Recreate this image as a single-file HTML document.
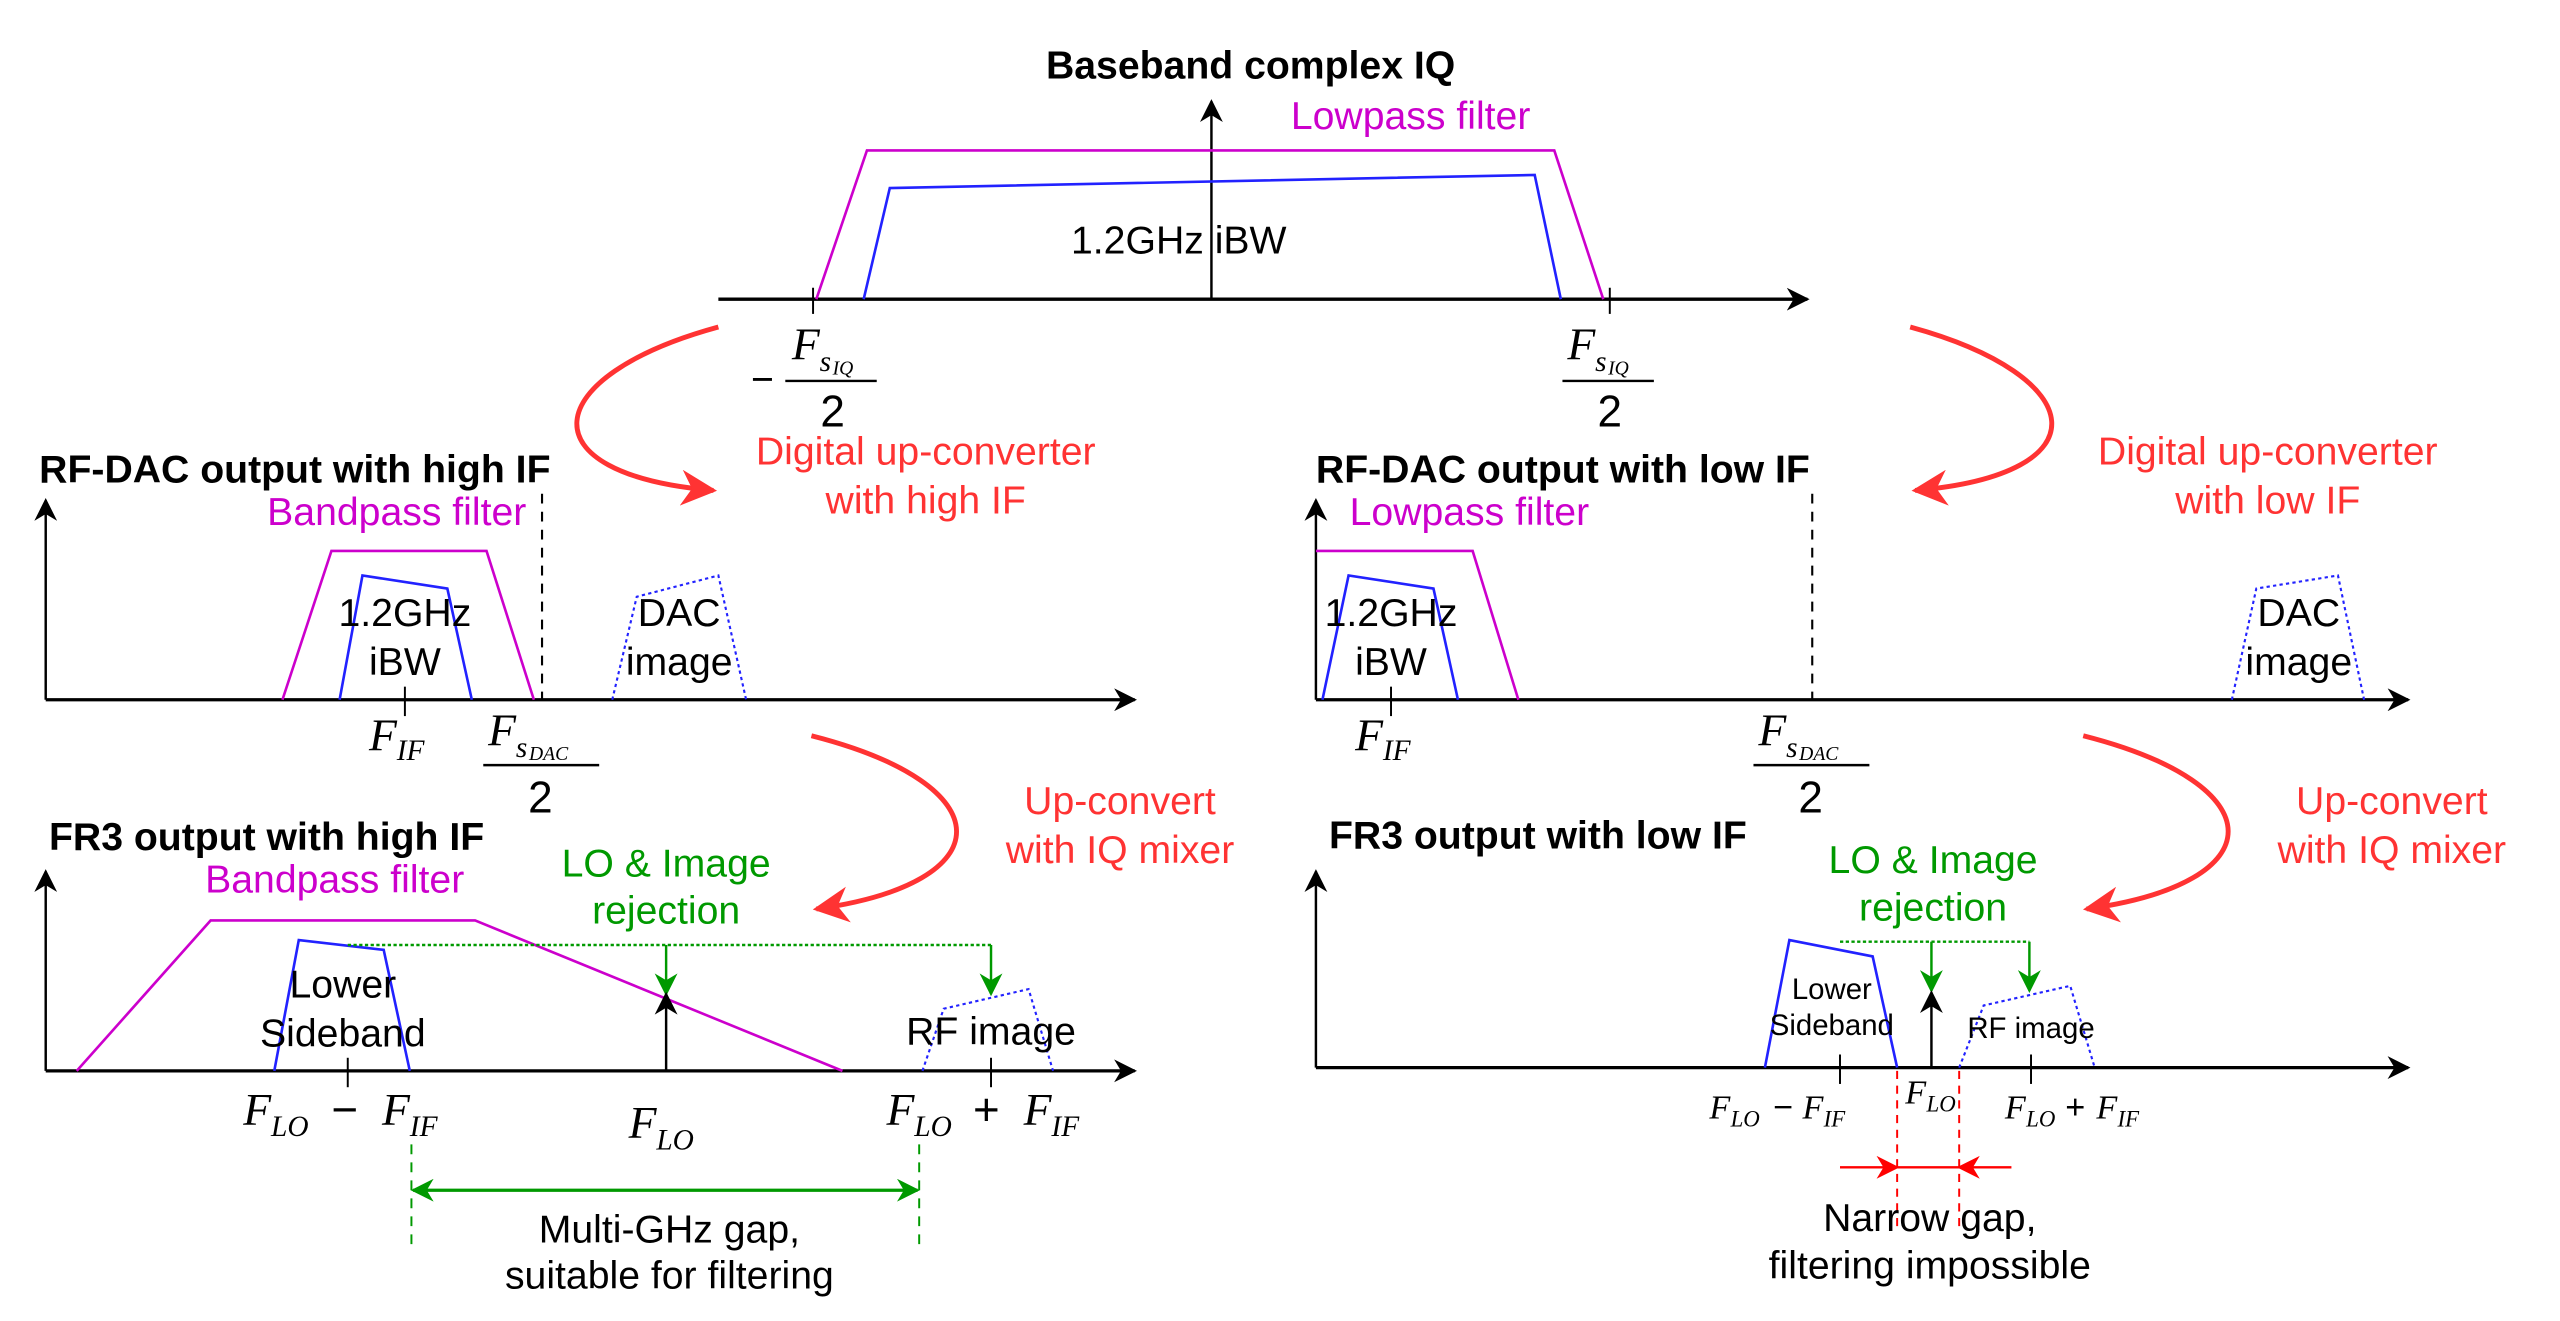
<!DOCTYPE html>
<html><head><meta charset="utf-8"><style>
html,body{margin:0;padding:0;background:#fff;}
svg{display:block;}
text{font-family:"Liberation Sans",sans-serif;}
.m{font-family:"Liberation Serif",serif;font-style:italic;}
.t{font-weight:bold;font-size:24px;}
</style></head><body>
<svg width="2560" height="1321" viewBox="0 0 1568 808" preserveAspectRatio="none" xmlns="http://www.w3.org/2000/svg">
<defs>
<marker id="ak2" viewBox="0 0 10 10" refX="9" refY="5" markerWidth="14" markerHeight="14" orient="auto-start-reverse" markerUnits="userSpaceOnUse"><path d="M0,0 L10,5 L0,10 L3,5 z" fill="#000"/></marker>
<marker id="ar" viewBox="0 0 10 10" refX="9" refY="5" markerWidth="22" markerHeight="22" orient="auto" markerUnits="userSpaceOnUse"><path d="M0,0 L10,5 L0,10 L3,5 z" fill="#f33"/></marker>
<marker id="ar2" viewBox="0 0 10 10" refX="9" refY="5" markerWidth="14" markerHeight="14" orient="auto" markerUnits="userSpaceOnUse"><path d="M0,0 L10,5 L0,10 L3,5 z" fill="#f00"/></marker>
<marker id="ag" viewBox="0 0 10 10" refX="9" refY="5" markerWidth="14" markerHeight="14" orient="auto-start-reverse" markerUnits="userSpaceOnUse"><path d="M0,0 L10,5 L0,10 L3,5 z" fill="#090"/></marker>
</defs>

<!-- TOP -->
<text x="766" y="48" text-anchor="middle" class="t">Baseband complex IQ</text>
<line x1="742" y1="183" x2="742" y2="62" stroke="#000" stroke-width="1.5" marker-end="url(#ak2)"/>
<line x1="440" y1="183" x2="1107" y2="183" stroke="#000" stroke-width="2" marker-end="url(#ak2)"/>
<polyline points="500,183 531,92 952,92 982,183" fill="none" stroke="#c0c" stroke-width="1.6"/>
<polyline points="529,183 545,115 940,107 956,183" fill="none" stroke="#22f" stroke-width="1.6"/>
<line x1="498" y1="176" x2="498" y2="192" stroke="#000" stroke-width="1.2"/>
<line x1="986" y1="176" x2="986" y2="192" stroke="#000" stroke-width="1.2"/>
<text x="864" y="79" text-anchor="middle" fill="#c0c" font-size="24">Lowpass filter</text>
<text x="722" y="155" text-anchor="middle" font-size="24">1.2GHz iBW</text>
<text x="467" y="240" text-anchor="middle" font-size="24">−</text>
<text x="485" y="220" class="m" font-size="28">F</text><text x="502" y="227" class="m" font-size="18">s</text><text x="510" y="229" class="m" font-size="12">IQ</text>
<line x1="481" y1="233" x2="537" y2="233" stroke="#000" stroke-width="1.5"/>
<text x="510" y="261" text-anchor="middle" font-family="Liberation Serif" font-size="27">2</text>
<text x="960" y="220" class="m" font-size="28">F</text><text x="977" y="227" class="m" font-size="18">s</text><text x="985" y="229" class="m" font-size="12">IQ</text>
<line x1="957" y1="233" x2="1013" y2="233" stroke="#000" stroke-width="1.5"/>
<text x="986" y="261" text-anchor="middle" font-family="Liberation Serif" font-size="27">2</text>

<!-- red curves top -->
<path d="M440,200 C330,230 320,290 437,300" fill="none" stroke="#f33" stroke-width="3" marker-end="url(#ar)"/>
<path d="M1170,200 C1280,230 1290,290 1173,300" fill="none" stroke="#f33" stroke-width="3" marker-end="url(#ar)"/>
<text x="567" y="284" text-anchor="middle" fill="#f33" font-size="24">Digital up-converter</text>
<text x="567" y="314" text-anchor="middle" fill="#f33" font-size="24">with high IF</text>
<text x="1389" y="284" text-anchor="middle" fill="#f33" font-size="24">Digital up-converter</text>
<text x="1389" y="314" text-anchor="middle" fill="#f33" font-size="24">with low IF</text>

<!-- MID LEFT -->
<text x="24" y="295" class="t">RF-DAC output with high IF</text>
<line x1="28" y1="428" x2="28" y2="306" stroke="#000" stroke-width="1.5" marker-end="url(#ak2)"/>
<line x1="28" y1="428" x2="695" y2="428" stroke="#000" stroke-width="2" marker-end="url(#ak2)"/>
<polyline points="173,428 203,337 298,337 327,428" fill="none" stroke="#c0c" stroke-width="1.6"/>
<polyline points="208,428 222,352 274,360 289,428" fill="none" stroke="#22f" stroke-width="1.6"/>
<polyline points="375,428 390,365 440,352 457,428" fill="none" stroke="#22f" stroke-width="1.3" stroke-dasharray="2,2"/>
<line x1="332" y1="302" x2="332" y2="428" stroke="#000" stroke-width="1.3" stroke-dasharray="6,5"/>
<line x1="248" y1="420" x2="248" y2="438" stroke="#000" stroke-width="1.2"/>
<text x="243" y="321" text-anchor="middle" fill="#c0c" font-size="24">Bandpass filter</text>
<text x="248" y="383" text-anchor="middle" font-size="24">1.2GHz</text>
<text x="248" y="413" text-anchor="middle" font-size="24">iBW</text>
<text x="416" y="383" text-anchor="middle" font-size="24">DAC</text>
<text x="416" y="413" text-anchor="middle" font-size="24">image</text>
<text x="226" y="459" class="m" font-size="28">F</text><text x="243" y="465" class="m" font-size="18">IF</text>
<text x="299" y="456" class="m" font-size="28">F</text><text x="316" y="463" class="m" font-size="18">s</text><text x="324" y="465" class="m" font-size="12">DAC</text>
<line x1="296" y1="468" x2="367" y2="468" stroke="#000" stroke-width="1.5"/>
<text x="331" y="497" text-anchor="middle" font-family="Liberation Serif" font-size="27">2</text>

<!-- MID RIGHT -->
<text x="806" y="295" class="t">RF-DAC output with low IF</text>
<line x1="806" y1="428" x2="806" y2="306" stroke="#000" stroke-width="1.5" marker-end="url(#ak2)"/>
<line x1="806" y1="428" x2="1475" y2="428" stroke="#000" stroke-width="2" marker-end="url(#ak2)"/>
<polyline points="806,337 902,337 930,428" fill="none" stroke="#c0c" stroke-width="1.6"/>
<polyline points="810,428 826,352 878,360 893,428" fill="none" stroke="#22f" stroke-width="1.6"/>
<polyline points="1367,428 1382,360 1432,352 1448,428" fill="none" stroke="#22f" stroke-width="1.3" stroke-dasharray="2,2"/>
<line x1="1110" y1="302" x2="1110" y2="428" stroke="#000" stroke-width="1.3" stroke-dasharray="6,5"/>
<line x1="852" y1="420" x2="852" y2="438" stroke="#000" stroke-width="1.2"/>
<text x="900" y="321" text-anchor="middle" fill="#c0c" font-size="24">Lowpass filter</text>
<text x="852" y="383" text-anchor="middle" font-size="24">1.2GHz</text>
<text x="852" y="413" text-anchor="middle" font-size="24">iBW</text>
<text x="1408" y="383" text-anchor="middle" font-size="24">DAC</text>
<text x="1408" y="413" text-anchor="middle" font-size="24">image</text>
<text x="830" y="459" class="m" font-size="28">F</text><text x="847" y="465" class="m" font-size="18">IF</text>
<text x="1077" y="456" class="m" font-size="28">F</text><text x="1094" y="463" class="m" font-size="18">s</text><text x="1102" y="465" class="m" font-size="12">DAC</text>
<line x1="1074" y1="468" x2="1145" y2="468" stroke="#000" stroke-width="1.5"/>
<text x="1109" y="497" text-anchor="middle" font-family="Liberation Serif" font-size="27">2</text>

<!-- red curves middle -->
<path d="M497,450 C615,480 615,540 500,556" fill="none" stroke="#f33" stroke-width="3" marker-end="url(#ar)"/>
<path d="M1276,450 C1394,480 1394,540 1278,556" fill="none" stroke="#f33" stroke-width="3" marker-end="url(#ar)"/>
<text x="686" y="498" text-anchor="middle" fill="#f33" font-size="24">Up-convert</text>
<text x="686" y="528" text-anchor="middle" fill="#f33" font-size="24">with IQ mixer</text>
<text x="1465" y="498" text-anchor="middle" fill="#f33" font-size="24">Up-convert</text>
<text x="1465" y="528" text-anchor="middle" fill="#f33" font-size="24">with IQ mixer</text>

<!-- BOTTOM LEFT -->
<text x="30" y="520" class="t">FR3 output with high IF</text>
<line x1="28" y1="655" x2="28" y2="533" stroke="#000" stroke-width="1.5" marker-end="url(#ak2)"/>
<line x1="28" y1="655" x2="695" y2="655" stroke="#000" stroke-width="2" marker-end="url(#ak2)"/>
<polyline points="47,655 129,563 291,563 516,655" fill="none" stroke="#c0c" stroke-width="1.6"/>
<polyline points="168,655 183,575 235,581 251,655" fill="none" stroke="#22f" stroke-width="1.6"/>
<polyline points="565,655 578,617 630,605 645,655" fill="none" stroke="#22f" stroke-width="1.3" stroke-dasharray="2,2"/>
<line x1="213" y1="578" x2="607" y2="578" stroke="#090" stroke-width="1.5" stroke-dasharray="2,1.5"/>
<line x1="408" y1="578" x2="408" y2="608" stroke="#090" stroke-width="1.5" marker-end="url(#ag)"/>
<line x1="607" y1="578" x2="607" y2="608" stroke="#090" stroke-width="1.5" marker-end="url(#ag)"/>
<line x1="408" y1="655" x2="408" y2="608" stroke="#000" stroke-width="1.5" marker-end="url(#ak2)"/>
<line x1="213" y1="647" x2="213" y2="665" stroke="#000" stroke-width="1.2"/>
<line x1="607" y1="647" x2="607" y2="665" stroke="#000" stroke-width="1.2"/>
<text x="205" y="546" text-anchor="middle" fill="#c0c" font-size="24">Bandpass filter</text>
<text x="408" y="536" text-anchor="middle" fill="#090" font-size="24">LO &amp; Image</text>
<text x="408" y="565" text-anchor="middle" fill="#090" font-size="24">rejection</text>
<text x="210" y="610" text-anchor="middle" font-size="24">Lower</text>
<text x="210" y="640" text-anchor="middle" font-size="24">Sideband</text>
<text x="607" y="639" text-anchor="middle" font-size="24">RF image</text>
<text x="149" y="688" class="m" font-size="28">F</text><text x="166" y="695" class="m" font-size="18">LO</text><text x="203" y="688" font-family="Liberation Serif" font-size="28">−</text><text x="234" y="688" class="m" font-size="28">F</text><text x="251" y="695" class="m" font-size="18">IF</text>
<text x="385" y="696" class="m" font-size="28">F</text><text x="402" y="703" class="m" font-size="18">LO</text>
<text x="543" y="688" class="m" font-size="28">F</text><text x="560" y="695" class="m" font-size="18">LO</text><text x="596" y="688" font-family="Liberation Serif" font-size="28">+</text><text x="627" y="688" class="m" font-size="28">F</text><text x="644" y="695" class="m" font-size="18">IF</text>
<line x1="252" y1="700" x2="252" y2="765" stroke="#090" stroke-width="1.2" stroke-dasharray="6,5"/>
<line x1="563" y1="700" x2="563" y2="765" stroke="#090" stroke-width="1.2" stroke-dasharray="6,5"/>
<line x1="253" y1="728" x2="562" y2="728" stroke="#090" stroke-width="2" marker-start="url(#ag)" marker-end="url(#ag)"/>
<text x="410" y="760" text-anchor="middle" font-size="24">Multi-GHz gap,</text>
<text x="410" y="788" text-anchor="middle" font-size="24">suitable for filtering</text>

<!-- BOTTOM RIGHT -->
<text x="814" y="519" class="t">FR3 output with low IF</text>
<line x1="806" y1="653" x2="806" y2="533" stroke="#000" stroke-width="1.5" marker-end="url(#ak2)"/>
<line x1="806" y1="653" x2="1475" y2="653" stroke="#000" stroke-width="2" marker-end="url(#ak2)"/>
<polyline points="1081,653 1096,575 1147,585 1162,653" fill="none" stroke="#22f" stroke-width="1.6"/>
<polyline points="1200,653 1215,615 1268,603 1283,653" fill="none" stroke="#22f" stroke-width="1.3" stroke-dasharray="2,2"/>
<line x1="1127" y1="576" x2="1243" y2="576" stroke="#090" stroke-width="1.5" stroke-dasharray="2,1.5"/>
<line x1="1183" y1="576" x2="1183" y2="606" stroke="#090" stroke-width="1.5" marker-end="url(#ag)"/>
<line x1="1243" y1="576" x2="1243" y2="606" stroke="#090" stroke-width="1.5" marker-end="url(#ag)"/>
<line x1="1183" y1="653" x2="1183" y2="607" stroke="#000" stroke-width="1.5" marker-end="url(#ak2)"/>
<line x1="1127" y1="645" x2="1127" y2="663" stroke="#000" stroke-width="1.2"/>
<line x1="1244" y1="645" x2="1244" y2="663" stroke="#000" stroke-width="1.2"/>
<text x="1184" y="534" text-anchor="middle" fill="#090" font-size="24">LO &amp; Image</text>
<text x="1184" y="563" text-anchor="middle" fill="#090" font-size="24">rejection</text>
<text x="1122" y="611" text-anchor="middle" font-size="18">Lower</text>
<text x="1122" y="633" text-anchor="middle" font-size="18">Sideband</text>
<text x="1244" y="635" text-anchor="middle" font-size="18">RF image</text>
<text x="1047" y="684" class="m" font-size="21">F</text><text x="1060" y="689" class="m" font-size="14">LO</text><text x="1086" y="684" font-family="Liberation Serif" font-size="21">−</text><text x="1104" y="684" class="m" font-size="21">F</text><text x="1117" y="689" class="m" font-size="14">IF</text>
<text x="1167" y="675" class="m" font-size="21">F</text><text x="1180" y="680" class="m" font-size="14">LO</text>
<text x="1228" y="684" class="m" font-size="21">F</text><text x="1241" y="689" class="m" font-size="14">LO</text><text x="1265" y="684" font-family="Liberation Serif" font-size="21">+</text><text x="1284" y="684" class="m" font-size="21">F</text><text x="1297" y="689" class="m" font-size="14">IF</text>
<line x1="1162" y1="655" x2="1162" y2="750" stroke="#f00" stroke-width="1.2" stroke-dasharray="5,4"/>
<line x1="1200" y1="655" x2="1200" y2="750" stroke="#f00" stroke-width="1.2" stroke-dasharray="5,4"/>
<line x1="1127" y1="714" x2="1162" y2="714" stroke="#f00" stroke-width="1.5" marker-end="url(#ar2)"/>
<line x1="1232" y1="714" x2="1200" y2="714" stroke="#f00" stroke-width="1.5" marker-end="url(#ar2)"/>
<line x1="1162" y1="714" x2="1200" y2="714" stroke="#f00" stroke-width="1.5"/>
<text x="1182" y="753" text-anchor="middle" font-size="24">Narrow gap,</text>
<text x="1182" y="782" text-anchor="middle" font-size="24">filtering impossible</text>
</svg>
</body></html>
